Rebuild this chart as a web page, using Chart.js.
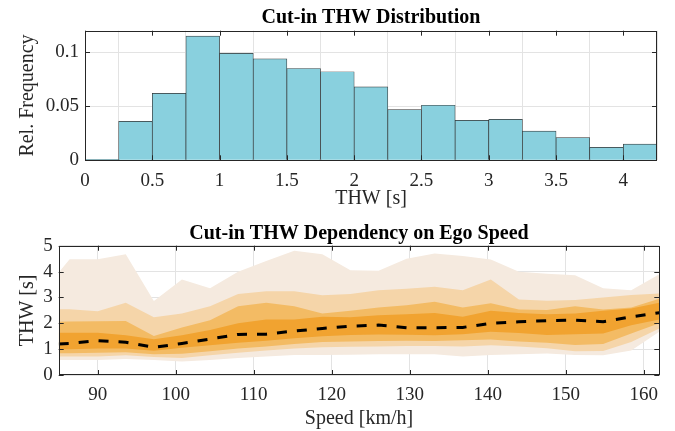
<!DOCTYPE html>
<html>
<head>
<meta charset="utf-8">
<script src="https://cdn.jsdelivr.net/npm/chart.js@4.4.1/dist/chart.umd.min.js"></script>
<style>
  html, body { margin: 0; padding: 0; background: #fff; }
  #wrap { position: relative; width: 675px; height: 431px; }
  canvas { position: absolute; left: 0; }
</style>
</head>
<body>
<div id="wrap">
  <canvas id="histChart" width="675" height="215" style="top:0px"></canvas>
  <canvas id="speedChart" width="675" height="216" style="top:215px"></canvas>
</div>
<script>
// HISTOGRAM DATA (bins of 0.25 s)
const thwBinCenters = [0.125, 0.375, 0.625, 0.875, 1.125, 1.375, 1.625, 1.875, 2.125, 2.375, 2.625, 2.875, 3.125, 3.375, 3.625, 3.875, 4.125];
const thwRelFreq = [0.001, 0.036, 0.062, 0.115, 0.099, 0.094, 0.085, 0.082, 0.068, 0.047, 0.051, 0.037, 0.038, 0.027, 0.021, 0.012, 0.015];
const histXTicks = [0, 0.5, 1, 1.5, 2, 2.5, 3, 3.5, 4];
const histYTicks = [0, 0.05, 0.1];

// SPEED DEPENDENCY DATA
const speedKmh = [85, 86.4, 90, 93.6, 97.2, 100.8, 104.4, 108, 111.6, 115.2, 118.8, 122.4, 126, 129.6, 133.2, 136.8, 140.4, 144, 147.6, 151.2, 154.8, 158.4, 162];
const thwMedian = [1.2, 1.22, 1.33, 1.27, 1.07, 1.22, 1.39, 1.57, 1.58, 1.7, 1.8, 1.89, 1.93, 1.83, 1.83, 1.84, 2.0, 2.06, 2.1, 2.12, 2.06, 2.25, 2.41];
const innerUpper = [1.63, 1.63, 1.63, 1.54, 1.38, 1.54, 1.74, 2.0, 2.15, 2.15, 2.25, 2.23, 2.31, 2.35, 2.4, 2.25, 2.48, 2.4, 2.35, 2.38, 2.48, 2.57, 2.79];
const innerLower = [1.0, 1.0, 1.02, 1.02, 0.94, 1.05, 1.15, 1.25, 1.32, 1.42, 1.5, 1.55, 1.57, 1.56, 1.54, 1.58, 1.67, 1.62, 1.55, 1.58, 1.6, 1.92, 2.15];
const midUpper = [2.06, 2.07, 2.08, 2.09, 1.51, 1.84, 2.12, 2.66, 2.79, 2.66, 2.38, 2.48, 2.61, 2.7, 2.83, 2.61, 2.77, 2.53, 2.51, 2.66, 2.53, 2.61, 2.95];
const midLower = [0.84, 0.84, 0.86, 0.88, 0.8, 0.82, 0.92, 1.02, 1.1, 1.2, 1.28, 1.3, 1.31, 1.32, 1.31, 1.34, 1.37, 1.3, 1.25, 1.16, 1.2, 1.6, 2.0];
const wideUpper = [2.54, 2.54, 2.47, 2.79, 2.23, 2.38, 2.66, 3.13, 3.24, 3.24, 3.08, 3.13, 3.28, 3.34, 3.41, 3.28, 3.69, 2.92, 2.87, 2.9, 3.0, 3.09, 3.15];
const wideLower = [0.72, 0.72, 0.72, 0.76, 0.7, 0.66, 0.76, 0.86, 0.95, 1.02, 1.07, 1.09, 1.1, 1.12, 1.12, 1.1, 1.15, 1.1, 1.03, 0.92, 0.93, 1.28, 1.8];
const outerUpper = [3.96, 4.48, 4.48, 4.67, 2.86, 3.69, 3.35, 3.99, 4.41, 4.8, 4.67, 4.05, 4.03, 4.5, 4.7, 4.6, 4.47, 3.99, 3.92, 3.86, 3.35, 3.28, 3.9];
const outerLower = [0.58, 0.58, 0.58, 0.62, 0.58, 0.52, 0.58, 0.66, 0.72, 0.77, 0.77, 0.78, 0.8, 0.8, 0.8, 0.72, 0.77, 0.8, 0.83, 0.77, 0.76, 0.95, 1.67];
const speedXTicks = [90, 100, 110, 120, 130, 140, 150, 160];
const speedYTicks = [0, 1, 2, 3, 4, 5];

const FONT = 'Liberation Serif';
const AXIS_COLOR = '#262626';
const GRID_COLOR = '#e3e3e3';

// box round the plot area with inward ticks, matlab style
const boxPlugin = {
    id: 'boxPlugin',
    afterDraw(chart) {
        const { ctx, chartArea: a, scales } = chart;
        const len = 5;
        ctx.save();
        ctx.strokeStyle = AXIS_COLOR;
        ctx.lineWidth = 1;
        ctx.beginPath();
        scales.x.ticks.forEach(t => {
            const px = Math.round(scales.x.getPixelForValue(t.value)) + 0.5;
            ctx.moveTo(px, a.bottom); ctx.lineTo(px, a.bottom - len);
            ctx.moveTo(px, a.top); ctx.lineTo(px, a.top + len);
        });
        scales.y.ticks.forEach(t => {
            const py = Math.round(scales.y.getPixelForValue(t.value)) + 0.5;
            ctx.moveTo(a.left, py); ctx.lineTo(a.left + len, py);
            ctx.moveTo(a.right, py); ctx.lineTo(a.right - len, py);
        });
        ctx.stroke();
        ctx.strokeRect(Math.round(a.left) + 0.5, Math.round(a.top) + 0.5, Math.round(a.right - a.left) - 1, Math.round(a.bottom - a.top) - 1);
        ctx.restore();
    }
};

function axisOpts(min, max, tickValues, fitSize, titleText, titlePad, isX) {
    return {
        type: 'linear',
        min: min,
        max: max,
        offset: false,
        afterBuildTicks: s => { s.ticks = tickValues.map(v => ({ value: v })); },
        afterFit: s => { if (isX) s.height = fitSize; else s.width = fitSize; },
        grid: { color: GRID_COLOR, drawTicks: false },
        border: { display: false },
        ticks: {
            font: { family: FONT, size: 19 }, color: AXIS_COLOR,
            padding: isX ? 9 : 6, autoSkip: false, maxRotation: 0,
            callback: v => String(v)
        },
        title: { display: true, text: titleText, font: { family: FONT, size: 20 }, color: AXIS_COLOR, padding: titlePad }
    };
}

// 1. HISTOGRAM
new Chart(document.getElementById('histChart'), {
    type: 'bar',
    data: {
        datasets: [{
            data: thwBinCenters.map((x, i) => ({ x: x, y: thwRelFreq[i] })),
            backgroundColor: '#89d0de',
            borderColor: '#333333',
            borderWidth: 0.7,
            barPercentage: 1,
            categoryPercentage: 1,
            grouped: false
        }]
    },
    options: {
        responsive: false,
        animation: false,
        layout: { padding: { left: 0, right: 18, top: 0, bottom: 0 } },
        plugins: {
            legend: { display: false },
            tooltip: { enabled: false },
            title: {
                display: true, fullSize: false, text: 'Cut-in THW Distribution', color: '#000',
                font: { family: FONT, size: 20, weight: 'bold' },
                padding: { top: 6.3, bottom: 0.4 }
            }
        },
        scales: {
            x: axisOpts(0, 4.25, histXTicks, 54.7, 'THW [s]', { bottom: 4.5 }, true),
            y: axisOpts(0, 0.12, histYTicks, 85, 'Rel. Frequency', { top: 15.5 }, false)
        }
    },
    plugins: [boxPlugin]
});

// 2. SPEED DEPENDENCY
const pts = arr => speedKmh.map((x, i) => ({ x: x, y: arr[i] }));
const band = (arr, color, fill) => ({
    data: pts(arr), borderWidth: 0, pointRadius: 0, tension: 0,
    backgroundColor: color, fill: fill
});

new Chart(document.getElementById('speedChart'), {
    type: 'line',
    data: {
        datasets: [
            { data: pts(thwMedian), borderColor: '#000', borderWidth: 3, borderDash: [10, 10], pointRadius: 0, tension: 0, fill: false },
            band(innerUpper, '#f1a330', '+1'),
            band(innerLower, '#f1a330', false),
            band(midUpper, '#f3bb64', '+1'),
            band(midLower, '#f3bb64', false),
            band(wideUpper, '#f5d5a9', '+1'),
            band(wideLower, '#f5d5a9', false),
            band(outerUpper, '#f5eadf', '+1'),
            band(outerLower, '#f5eadf', false)
        ]
    },
    options: {
        responsive: false,
        animation: false,
        layout: { padding: { left: 0, right: 15.7, top: 0, bottom: 0 } },
        plugins: {
            legend: { display: false },
            tooltip: { enabled: false },
            title: {
                display: true, fullSize: false, text: 'Cut-in THW Dependency on Ego Speed', color: '#000',
                font: { family: FONT, size: 20, weight: 'bold' },
                padding: { top: 6.7, bottom: 0 }
            }
        },
        scales: {
            x: axisOpts(85, 162, speedXTicks, 56, 'Speed [km/h]', { bottom: 0.7 }, true),
            y: axisOpts(0, 5, speedYTicks, 58.7, 'THW [s]', { top: 15.5 }, false)
        }
    },
    plugins: [boxPlugin]
});
</script>
</body>
</html>
